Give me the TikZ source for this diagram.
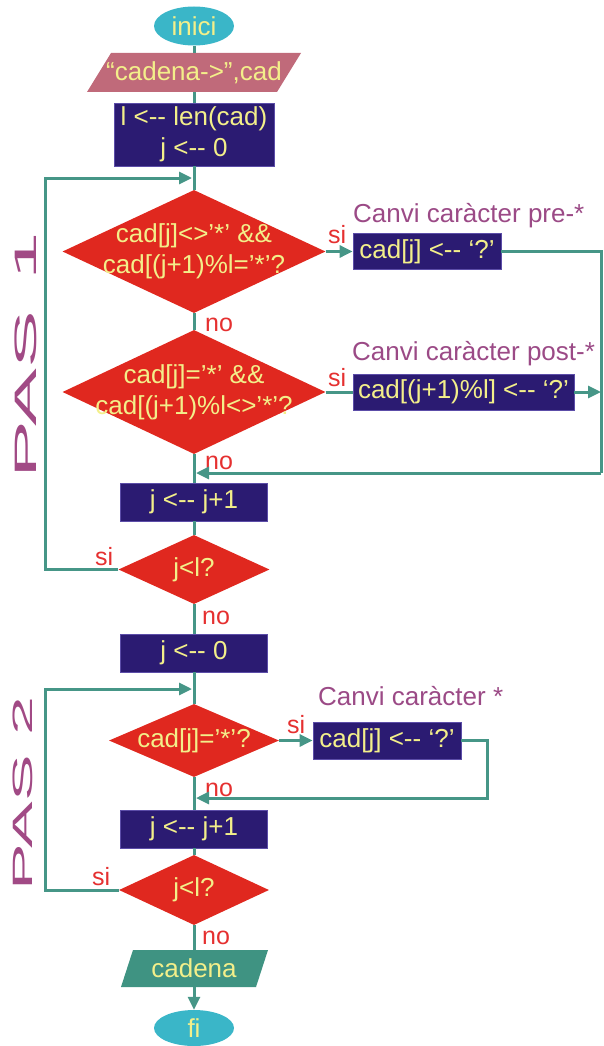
\documentclass[tikz,border=0pt]{standalone}
\usepackage{fontspec}
\setmainfont{Liberation Sans}
\usetikzlibrary{shapes.geometric,arrows.meta}
\definecolor{flowc}{HTML}{469687}
\definecolor{termc}{HTML}{3AB6C8}
\definecolor{inc}{HTML}{C06A7A}
\definecolor{navyc}{HTML}{2B1B72}
\definecolor{navyedge}{HTML}{5C4DA8}
\definecolor{decc}{HTML}{E0281F}
\definecolor{ytext}{HTML}{F3EF8A}
\definecolor{lredc}{HTML}{E53030}
\definecolor{purpc}{HTML}{9B4A86}
\definecolor{pasc}{HTML}{A14A85}
\definecolor{outc}{HTML}{3F9382}
\begin{document}
\begin{tikzpicture}[x=1pt,y=-1pt,
  txt/.style={text=ytext, font=\fontsize{26}{31}\selectfont, inner sep=0pt, align=center},
  proc/.style={txt, rectangle, fill=navyc, draw=navyedge, line width=0.8pt},
  dec/.style={diamond, fill=decc, inner sep=0pt},
  term/.style={txt, ellipse, fill=termc},
  lbl/.style={text=lredc, font=\fontsize{25}{28}\selectfont, inner sep=0pt, anchor=base west},
  captxt/.style={text=purpc, font=\fontsize{26}{30}\selectfont, inner sep=0pt, anchor=base west},
  pas/.style={text=pasc, inner sep=0pt, rotate=90},
  flow/.style={draw=flowc, line width=3pt},
  arr/.style={flow, -{Triangle[length=13pt,width=12pt]}}]
\useasboundingbox (0,0) rectangle (603,1046);

% ---- nodes
\node[term, minimum width=80, minimum height=39] (ini) at (194,26) {inici};
\fill[inc] (111,53) -- (301,53) -- (277,92) -- (87,92) -- cycle;
\node[txt, minimum width=190, minimum height=39] (in) at (194,72.5) {“cadena->”,cad};
\node[proc, minimum width=160, minimum height=63] (init) at (194,134.5) {l <-{}- len(cad)\\j <-{}- 0};

\node[dec, minimum width=263, minimum height=123] (d1) at (194,251.5) {};
\node[txt] (d1t) at (d1) {cad[j]<>’*’ \&\&\\cad[(j+1)\%l=’*’?};
\node[proc, minimum width=148, minimum height=36] (rpre) at (427,251.5) {cad[j] <-{}- ‘?’};
\node[captxt] (cpre) at (353,222) {Canvi caràcter pre-*};

\node[dec, minimum width=263, minimum height=124] (d2) at (194,392) {};
\node[txt] (d2t) at (d2) {cad[j]=’*’ \&\&\\cad[(j+1)\%l<>’*’?};
\node[proc, minimum width=221, minimum height=36] (rpost) at (463.5,392) {cad[(j+1)\%l] <-{}- ‘?’};
\node[captxt] (cpost) at (352,360) {Canvi caràcter post-*};

\node[proc, minimum width=147, minimum height=38] (inc1) at (194,502) {j <-{}- j+1};
\node[dec, minimum width=151, minimum height=69] (d3) at (194,569.5) {};
\node[txt] (d3t) at (d3) {j<l?};
\node[proc, minimum width=147, minimum height=38] (j0) at (194,653) {j <-{}- 0};

\node[dec, minimum width=170, minimum height=73] (d4) at (194,740.5) {};
\node[txt] (d4t) at (d4) {cad[j]=’*’?};
\node[proc, minimum width=148, minimum height=37] (rstar) at (387,740.5) {cad[j] <-{}- ‘?’};
\node[captxt] (cstar) at (318,705) {Canvi caràcter *};

\node[proc, minimum width=147, minimum height=38] (inc2) at (194,829) {j <-{}- j+1};
\node[dec, minimum width=150, minimum height=70] (d5) at (194,890) {};
\node[txt] (d5t) at (d5) {j<l?};

\fill[outc] (133,950) -- (268,950) -- (256,987) -- (121,987) -- cycle;
\node[txt, minimum width=135, minimum height=37] (out) at (194,968.5) {cadena};
\node[term, minimum width=80, minimum height=36] (fi) at (194,1028) {fi};

% ---- side labels
\node[pas] (pas1) at (26,355) {\scalebox{2.8}[1]{\fontsize{31}{31}\selectfont PAS\hspace{0.08em} 1}};
\node[pas] (pas2) at (23,793.5) {\scalebox{2.5}[1]{\fontsize{28}{28}\selectfont PAS 2}};

% ---- si / no
\node[lbl] (si1) at (328,243) {si};
\node[lbl] (no1) at (205,331) {no};
\node[lbl] (si2) at (328,386) {si};
\node[lbl] (no2) at (205,469) {no};
\node[lbl] (si3) at (95,565) {si};
\node[lbl] (no3) at (202,624) {no};
\node[lbl] (si4) at (287,733) {si};
\node[lbl] (no4) at (205,796) {no};
\node[lbl] (si5) at (92,885) {si};
\node[lbl] (no5) at (202,944) {no};

% ---- coordinates
\coordinate (c1) at (601,251.5);
\coordinate (c2) at (601,392);
\coordinate (c3) at (601,473);
\coordinate (m1) at (196,473);
\coordinate (l1) at (45,569.5);
\coordinate (l2) at (45,178);
\coordinate (l3) at (192,178);
\coordinate (k1) at (45,890);
\coordinate (k2) at (45,689);
\coordinate (k3) at (192,689);
\coordinate (s1) at (487,740.5);
\coordinate (s2) at (487,798);
\coordinate (s3) at (196,798);

% ---- connectors
\draw[flow] (ini) -- (in);
\draw[flow] (in) -- (init);
\draw[flow] (init) -- (d1);
\draw[flow] (d1) -- (d2);
\draw[flow] (d2) -- (inc1);
\draw[flow] (inc1) -- (d3);
\draw[flow] (d3) -- (j0);
\draw[flow] (j0) -- (d4);
\draw[flow] (d4) -- (inc2);
\draw[flow] (inc2) -- (d5);
\draw[flow] (d5) -- (out);
\draw[arr] (out) -- (fi);

\draw[arr] (d1.east) -- (rpre.west);
\draw[flow] (rpre.east) -- (c1) -- (c3);
\draw[arr] (c3) -- (m1);
\draw[flow] (d2.east) -- (rpost.west);
\draw[arr] (rpost.east) -- (c2);

\draw[arr] (d3.west) -- (l1) -- (l2) -- (l3);
\draw[arr] (d5.west) -- (k1) -- (k2) -- (k3);

\draw[arr] (d4.east) -- (rstar.west);
\draw[arr] (rstar.east) -- (s1) -- (s2) -- (s3);
\end{tikzpicture}
\end{document}
